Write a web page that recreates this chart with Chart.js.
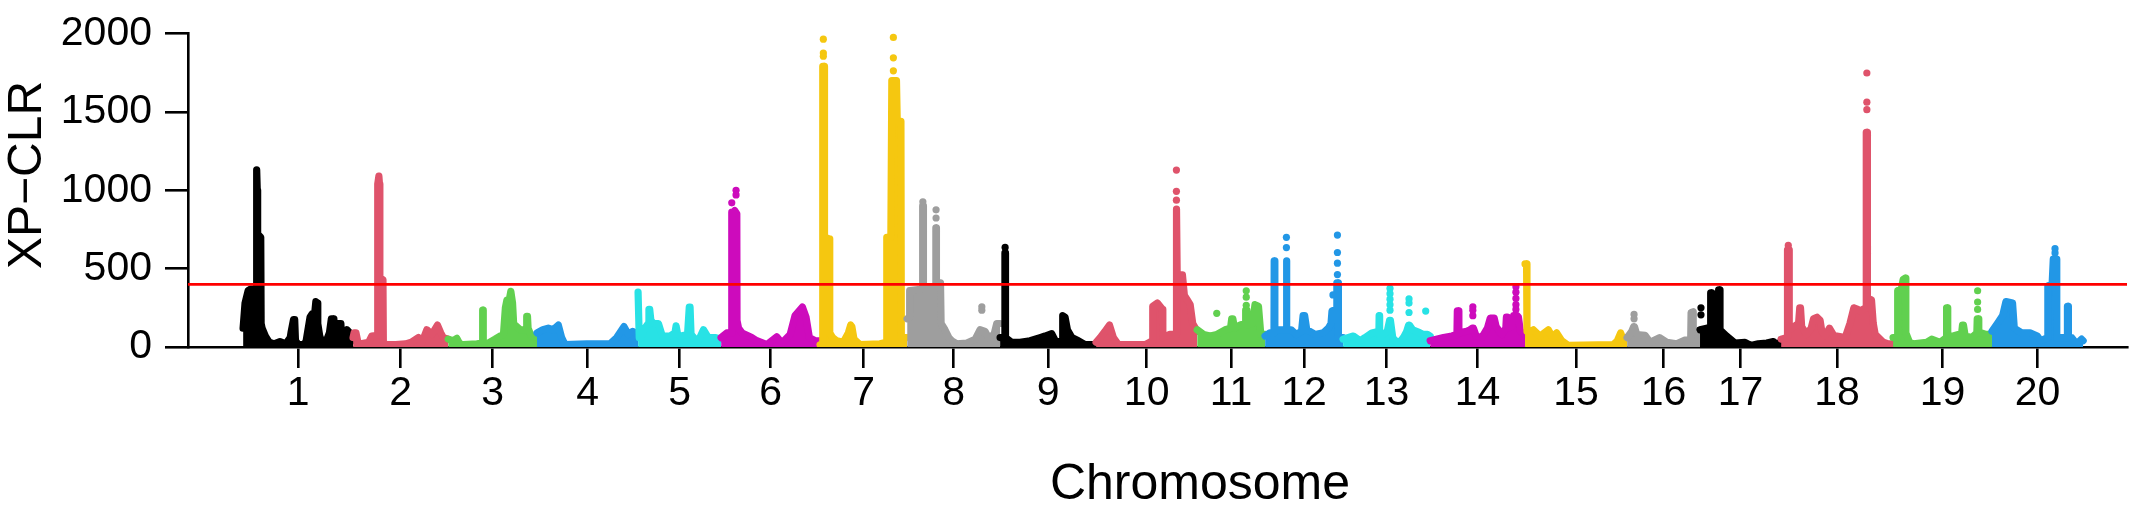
<!DOCTYPE html>
<html>
<head>
<meta charset="utf-8">
<script src="https://cdn.jsdelivr.net/npm/chart.js@4.4.1/dist/chart.umd.min.js"></script>
<style>
  html, body { margin: 0; padding: 0; background: #fff; overflow: hidden; }
  canvas { display: block; }
</style>
</head>
<body>
<canvas id="manhattan" width="2131" height="509"></canvas>
<script>
// chromosome names and lengths (Mb)
const chromosomes = ['1','2','3','4','5','6','7','8','9','10','11','12','13','14','15','16','17','18','19','20'];
const chrLengths = [56.7, 49.0, 45.8, 52.1, 42.8, 51.0, 44.9, 47.9, 49.5, 52.1, 35.0, 40.2, 44.9, 48.9, 52.6, 37.6, 41.8, 57.7, 51.0, 47.0];

// XP-CLR profile per chromosome: [position within chromosome (Mb), XP-CLR]
const xpclrScan = [
  [[0,120],[1.0,280],[2.6,360],[3.9,370],[6.9,370],[7.0,1130],[7.3,1000],[7.5,720],[9.1,700],[9.3,150],[9.8,120],[11.5,70],[13.5,30],[16.0,20],[19.0,35],[22.0,20],[24.3,60],[24.8,100],[26.0,175],[26.6,175],[27.0,40],[28.5,15],[31.5,15],[32.5,40],[34.5,190],[35.5,210],[36.8,200],[37.5,290],[38.2,280],[38.5,150],[39.5,70],[41.0,20],[42.5,25],[44.5,90],[45.5,180],[46.4,180],[46.8,60],[47.6,70],[48.9,150],[50.4,150],[50.8,50],[52.5,80],[53.6,110],[55.0,90],[56.0,40],[56.7,40]],
  [[0,60],[0.5,90],[1.5,90],[2.5,30],[4,20],[8,30],[9.6,70],[12.6,75],[12.7,1040],[13.3,1090],[13.6,1040],[13.8,440],[15.4,430],[15.6,30],[17,15],[22,15],[27,20],[30,30],[33.7,60],[35.4,25],[38,110],[40.6,80],[43.5,140],[45.2,90],[46.5,60],[49.0,50]],
  [[0,50],[2.5,40],[4.5,55],[6,20],[7.9,15],[14.8,20],[17.7,25],[17.8,235],[18.0,235],[18.1,25],[20,20],[24.2,50],[26.8,70],[28.5,80],[29.5,250],[30.3,300],[31.5,300],[32.3,355],[33.2,280],[33.8,140],[34.5,140],[37.1,110],[40.2,110],[40.5,195],[40.9,195],[41.2,120],[42.8,70],[45.8,60]],
  [[0,90],[3,110],[5.8,120],[8.4,110],[11,140],[12.7,60],[14.4,15],[25.6,20],[37.6,20],[41.1,60],[44.8,130],[47.1,80],[49.3,100],[52.1,80]],
  [[0,350],[0.4,350],[0.6,60],[1.5,60],[3.5,120],[5.3,150],[5.6,240],[6.0,240],[6.6,170],[8,150],[10.5,150],[12.5,70],[16.5,70],[19,90],[19.6,135],[20.4,80],[22,70],[25.5,80],[26.4,255],[26.8,255],[27.3,80],[29.4,50],[31.1,40],[33.7,110],[36.2,60],[39.7,60],[42.8,50]],
  [[0,60],[2.9,90],[5.4,90],[5.5,860],[6.2,860],[7.0,870],[8.1,850],[8.2,170],[9,120],[10.8,90],[15.8,60],[18.4,40],[23.6,15],[28.7,65],[31.3,25],[35.6,80],[38.1,200],[41.9,255],[43.8,190],[45.5,60],[48.5,40],[51.0,40]],
  [[0,15],[1.3,20],[1.4,1790],[2.1,1790],[2.3,700],[4.8,690],[5.0,90],[6.5,60],[8.6,40],[12,30],[14.6,90],[15.8,140],[16.4,130],[17.5,50],[20.6,15],[30.9,20],[34.3,30],[34.4,700],[36.5,700],[37.0,1700],[39.4,1700],[39.8,1440],[41.7,1440],[41.9,60],[44.9,60]],
  [[0,180],[1.0,190],[1.3,360],[7.9,370],[8.0,900],[8.3,900],[8.4,380],[14.7,380],[14.8,760],[15.0,760],[15.1,410],[17.2,410],[17.5,150],[19.5,110],[21.5,60],[23,40],[25.6,20],[30.8,25],[35.1,50],[37.6,110],[40.2,100],[41.9,60],[44.8,80],[46.2,150],[47.9,150]],
  [[0,60],[2.4,60],[2.5,600],[2.7,600],[2.8,60],[6.0,30],[10.3,30],[15.5,40],[20.6,60],[23.2,70],[26.6,85],[28.9,30],[32.1,40],[32.3,200],[33.5,190],[34.7,110],[37,60],[40.4,40],[43.8,15],[46.4,15],[49.5,15]],
  [[0,30],[2.1,60],[4.6,100],[6.9,140],[8.9,60],[11.5,15],[25.3,15],[27.5,30],[29.0,40],[29.2,260],[31.6,280],[34.2,240],[34.4,60],[36,70],[38,80],[41.2,80],[41.3,880],[41.6,880],[41.8,460],[44.5,460],[45.5,330],[47,300],[48.5,270],[49.8,150],[52.1,100]],
  [[0,110],[3.3,80],[6.7,70],[10.2,80],[14.4,110],[17.2,120],[17.8,180],[18.4,180],[19.2,120],[20.5,130],[22.2,140],[24.9,150],[25.0,235],[25.5,235],[25.6,140],[28.5,150],[29.8,270],[31.6,260],[32.8,80],[35.0,80]],
  [[0,70],[2.5,90],[4.6,90],[4.7,550],[5.0,550],[5.1,110],[7,110],[10.8,110],[10.9,550],[11.2,550],[11.3,110],[13.4,110],[16,80],[18.8,100],[19.6,200],[20.4,200],[21.5,110],[25.8,80],[30,90],[32.6,120],[34.0,150],[34.5,230],[36.8,240],[37.0,410],[37.6,410],[37.8,60],[40.2,60]],
  [[0,50],[5.3,70],[8.8,40],[11.3,60],[14.8,90],[18.5,100],[18.6,200],[18.8,200],[18.9,80],[20.5,80],[22.8,100],[24.0,170],[24.4,170],[25.6,60],[28.5,20],[31.1,60],[32.8,100],[33.8,140],[34.2,140],[35.9,110],[38.8,95],[41.4,80],[43.5,80],[44.9,70]],
  [[0,40],[6.9,60],[11.2,70],[13.8,80],[14.0,230],[14.6,230],[14.8,90],[18.9,100],[20.6,110],[21.7,120],[22.3,120],[23.7,70],[26.6,60],[29.5,120],[31.0,185],[33.0,185],[34.0,130],[36.9,80],[39.0,120],[39.3,190],[39.8,190],[40.4,120],[42.0,130],[43.0,200],[44.8,200],[45.5,190],[46.5,100],[48.9,80]],
  [[0,530],[0.8,530],[1.0,100],[3,100],[4.3,110],[7.7,70],[12,110],[14.3,60],[16.3,90],[18.9,40],[22.3,10],[45.5,15],[47.6,40],[49.3,90],[50.2,60],[52.6,60]],
  [[0,60],[2.4,100],[3.4,130],[3.8,130],[5.0,80],[9.3,75],[11.9,30],[16.7,60],[20.5,30],[25.6,20],[29.9,45],[32.8,50],[33.0,220],[34.0,225],[34.1,100],[37.6,100]],
  [[0,110],[3.4,120],[5.4,120],[5.5,345],[5.9,345],[6.1,150],[9.5,150],[9.6,365],[10.1,365],[10.3,110],[13.7,70],[18,25],[23.2,30],[26.1,10],[30,20],[34.4,25],[37.8,35],[39.2,20],[41.8,30]],
  [[0,50],[3.2,60],[3.3,620],[4.1,620],[4.2,110],[9.0,150],[9.6,250],[10.0,250],[10.6,130],[13.2,80],[15.5,120],[16.7,180],[18.5,190],[20.1,170],[21,100],[22.7,70],[24.9,120],[27.8,60],[28.7,70],[33,60],[35.5,150],[37.5,250],[39.5,240],[40.5,230],[43.8,250],[43.9,1370],[44.4,1370],[44.5,310],[46.6,300],[47.5,150],[48.5,80],[52.7,30],[55.3,20],[57.7,20]],
  [[0,60],[2.3,60],[2.4,360],[4.3,370],[5.2,430],[6.4,440],[6.6,90],[8.5,30],[10.5,20],[17.4,30],[19.9,50],[24.2,30],[27.5,60],[27.6,250],[28.1,250],[28.2,70],[31,70],[33.7,80],[35.3,80],[35.8,140],[36.3,140],[37.2,70],[40.6,60],[43.2,90],[43.4,180],[43.9,180],[44.2,90],[45.5,90],[47.9,80],[51.0,80]],
  [[0,100],[3.3,160],[5.5,200],[7.2,290],[10.6,280],[11.5,120],[15.3,90],[19.6,90],[23.4,70],[25.1,40],[28.7,60],[28.8,390],[31.0,400],[31.6,560],[33.2,560],[33.4,60],[38.8,60],[38.9,260],[39.3,260],[39.4,60],[41.1,60],[43.6,20],[46.2,50],[47.0,40]]
];

// isolated SNPs standing above the dense columns: [position (Mb), XP-CLR]
const xpclrPeaks = [
  [], [], [], [], [],
  [[5.5,920],[7.7,1000],[7.7,970]],
  [[1.7,1964],[1.7,1875],[1.7,1855],[37.8,1975],[37.8,1845],[37.8,1762]],
  [[8.1,926],[14.9,875],[14.9,823],[38.5,256],[38.5,235]],
  [[2.6,635]],
  [[41.4,1129],[41.4,993],[41.4,937]],
  [[25.3,359],[25.3,318],[25.3,266],[10.1,215]],
  [[11.0,700],[11.0,634],[37.3,714],[37.3,603],[37.3,535],[37.3,462],[35.0,332]],
  [[24.2,374],[24.2,340],[24.2,305],[24.2,270],[24.2,235],[34.0,307],[34.0,280],[34.0,220],[42.6,229]],
  [[22.0,256],[22.0,235],[22.0,200],[44.2,384],[44.2,350],[44.2,310],[44.2,270],[44.2,240]],
  [],
  [[3.6,208],[3.6,180]],
  [[0.5,250],[0.5,205]],
  [[3.7,648],[44.2,1748],[44.2,1562],[44.2,1514]],
  [[43.6,359],[43.6,287],[43.6,240]],
  [[32.5,627],[32.5,600]]
];

const threshold = 400;
const yTicks = [0, 500, 1000, 1500, 2000];

// R default palette, recycled over chromosomes
const palette = ['#000000', '#DF536B', '#61D04F', '#2297E6', '#28E2E5', '#CD0BBC', '#F5C710', '#9E9E9E'];
const fontFamily = '"Liberation Sans", Arial, sans-serif';
const xMin = -28.4;
const xMax = 971.1;

// cumulative start of each chromosome
const chrStarts = [];
chrLengths.forEach((len, i) => {
    chrStarts.push(i === 0 ? 0 : chrStarts[i - 1] + chrLengths[i - 1]);
});
const chrMids = chrStarts.map((s, i) => s + chrLengths[i] / 2);

const datasets = [];

// dense profile of each chromosome
xpclrScan.forEach((scan, i) => {
    const color = palette[i % palette.length];
    datasets.push({
        type: 'line',
        label: 'Chr' + chromosomes[i],
        data: scan.map(([pos, val]) => ({ x: chrStarts[i] + pos, y: val })),
        borderColor: color,
        backgroundColor: color,
        borderWidth: 7.2,
        borderJoinStyle: 'round',
        borderCapStyle: 'round',
        fill: 'origin',
        tension: 0,
        pointRadius: 0,
        pointHoverRadius: 0,
        clip: { left: 10, right: 10, top: 10, bottom: 0 },
        order: 40 - i
    });
});

// single points above the columns
const peakPoints = [];
const peakColors = [];
xpclrPeaks.forEach((peaks, i) => {
    peaks.forEach(([pos, val]) => {
        peakPoints.push({ x: chrStarts[i] + pos, y: val });
        peakColors.push(palette[i % palette.length]);
    });
});
datasets.push({
    type: 'line',
    label: 'peaks',
    data: peakPoints,
    showLine: false,
    pointRadius: 3.6,
    pointHoverRadius: 0,
    pointBorderWidth: 0,
    pointBackgroundColor: peakColors,
    pointBorderColor: peakColors,
    clip: 10,
    order: 1
});

// significance threshold
datasets.push({
    type: 'line',
    label: 'threshold',
    data: [{ x: xMin, y: threshold }, { x: xMax, y: threshold }],
    borderColor: '#FF0000',
    borderWidth: 2.8,
    pointRadius: 0,
    fill: false,
    order: 0
});

// axis titles drawn as text
const axisTitles = {
    id: 'axisTitles',
    afterDraw(chart) {
        const ctx = chart.ctx;
        ctx.save();
        ctx.fillStyle = '#000';
        ctx.textAlign = 'center';
        ctx.textBaseline = 'middle';
        ctx.font = '50px ' + fontFamily;
        ctx.fillText('Chromosome', 1200, 485);
        ctx.font = '48px ' + fontFamily;
        ctx.translate(28, 175);
        ctx.rotate(-Math.PI / 2);
        ctx.fillText('XP\u2212CLR', 0, 0);
        ctx.restore();
    }
};

const manhattanChart = new Chart(document.getElementById('manhattan'), {
    type: 'line',
    data: { datasets: datasets },
    options: {
        responsive: false,
        animation: false,
        devicePixelRatio: 1,
        layout: { padding: { top: 24, right: 4, left: 0, bottom: 0 } },
        plugins: {
            legend: { display: false },
            tooltip: { enabled: false }
        },
        scales: {
            x: {
                type: 'linear',
                min: xMin,
                max: xMax,
                afterBuildTicks: axis => {
                    axis.ticks = chrMids.map(v => ({ value: v }));
                },
                afterFit: axis => { axis.height = 162; },
                ticks: {
                    callback: (value, index) => chromosomes[index],
                    autoSkip: false,
                    maxRotation: 0,
                    color: '#000',
                    padding: 5,
                    font: { family: fontFamily, size: 41, lineHeight: 1 }
                },
                grid: {
                    drawOnChartArea: false,
                    drawTicks: true,
                    tickLength: 21,
                    color: '#000',
                    lineWidth: 2.6
                },
                border: { display: true, color: '#000', width: 2.6 }
            },
            y: {
                min: 0,
                max: 2000,
                afterBuildTicks: axis => {
                    axis.ticks = yTicks.map(v => ({ value: v }));
                },
                afterFit: axis => { axis.width = 188; },
                ticks: {
                    callback: value => String(value),
                    color: '#000',
                    padding: 13,
                    font: { family: fontFamily, size: 41, lineHeight: 1 }
                },
                grid: {
                    drawOnChartArea: false,
                    drawTicks: true,
                    tickLength: 23,
                    color: '#000',
                    lineWidth: 2.6
                },
                border: { display: true, color: '#000', width: 2.6 }
            }
        }
    },
    plugins: [axisTitles]
});
</script>
</body>
</html>
